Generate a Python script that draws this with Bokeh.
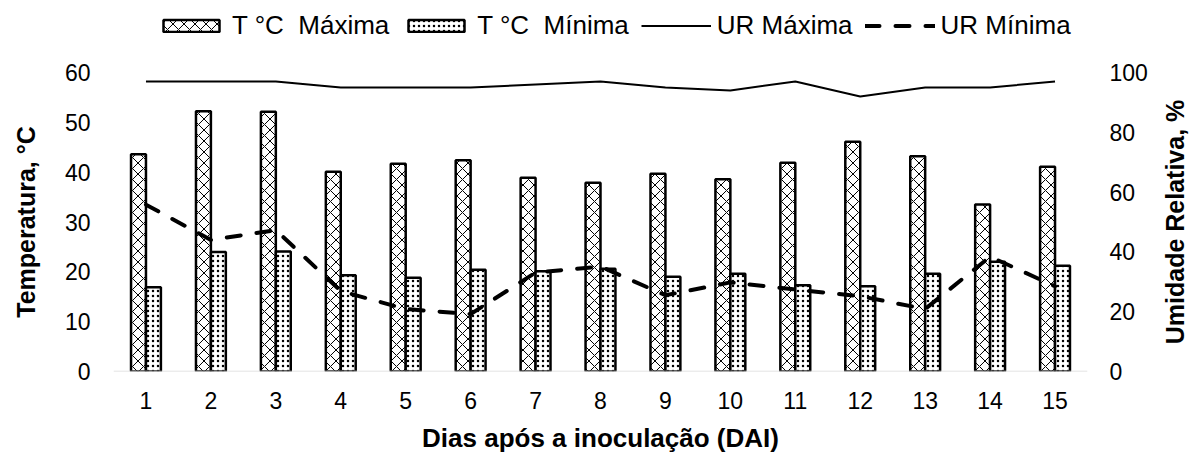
from bokeh.plotting import figure
from bokeh.layouts import column, row
from bokeh.models import Range1d, LinearAxis, Legend, LegendItem, ColumnDataSource, FixedTicker, Span, Title
from bokeh.transform import dodge
from bokeh.embed import file_html
from bokeh.resources import INLINE

days = list(range(1, 16))
t_max = [43.6, 52.2, 52.1, 40.1, 41.7, 42.4, 38.9, 37.9, 39.7, 38.6, 41.9, 46.1, 43.2, 33.5, 41.1]
t_min = [16.9, 24.0, 24.1, 19.3, 18.8, 20.4, 20.1, 20.6, 19.0, 19.6, 17.3, 17.1, 19.6, 22.0, 21.2]
ur_max = [97, 97, 97, 95, 95, 95, 96, 97, 95, 94, 97, 92, 95, 95, 97]
ur_min = [55.8, 44.0, 47.3, 26.9, 20.9, 19.2, 33.1, 35.1, 25.5, 29.8, 27.4, 25.2, 20.9, 38.4, 28.5]
labels = ["T °C  Máxima", "T °C  Mínima", "UR Máxima", "UR Mínima"]

src = ColumnDataSource(dict(day=days, t_max=t_max, t_min=t_min, ur_max=ur_max, ur_min=ur_min))

FONT = "Liberation Sans"
W_TOTAL = 1190
W_MAIN = 1157
FL, FW = 113, 974          # frame left / width
MT, FH, MB = 14, 305, 78   # top border / frame height / bottom border
H_MAIN = MT + FH + MB

bar_max_style = dict(fill_color="white", line_color="black", line_width=2.5,
                     hatch_pattern="x", hatch_color="black", hatch_scale=11, hatch_weight=1)
bar_min_style = dict(fill_color="white", line_color="black", line_width=2.5,
                     hatch_pattern=".", hatch_color="black", hatch_scale=5, hatch_weight=1.2)
ur_max_style = dict(line_color="black", line_width=2)
ur_min_style = dict(line_color="black", line_width=4, line_dash="14 16", line_cap="round")

# ---------------- main chart ----------------
p = figure(width=W_MAIN, height=H_MAIN, output_backend="svg", toolbar_location=None,
           x_range=Range1d(0.5, 15.5), y_range=Range1d(0, 60),
           min_border_left=FL, min_border_right=W_MAIN - FL - FW,
           min_border_top=MT, min_border_bottom=MB)
p.outline_line_color = None
p.xgrid.visible = False
p.ygrid.visible = False

p.extra_y_ranges = {"ur": Range1d(0, 100)}

def style_axis(ax):
    ax.axis_line_color = None
    ax.major_tick_line_color = None
    ax.minor_tick_line_color = None
    ax.major_tick_out = 0
    ax.major_tick_in = 0
    ax.minor_tick_out = 0
    ax.minor_tick_in = 0
    ax.major_label_text_font = FONT
    ax.major_label_text_font_size = "23px"
    ax.major_label_text_color = "black"
    ax.axis_label_text_font = FONT
    ax.axis_label_text_font_size = "25px"
    ax.axis_label_text_font_style = "bold"
    ax.axis_label_text_color = "black"

p.xaxis.ticker = FixedTicker(ticks=days)
p.xaxis.axis_label = "Dias após a inoculação (DAI)"
style_axis(p.xaxis[0])
p.xaxis.major_label_standoff = 20
p.xaxis.axis_label_standoff = 11
p.xaxis.axis_label_text_font_size = "26px"
p.yaxis.ticker = FixedTicker(ticks=[0, 10, 20, 30, 40, 50, 60])
p.yaxis.axis_label = "Temperatura, °C"
style_axis(p.yaxis[0])
p.yaxis.major_label_standoff = 23
p.yaxis.axis_label_standoff = 22

ax_r = LinearAxis(y_range_name="ur", ticker=FixedTicker(ticks=[0, 20, 40, 60, 80, 100]))
style_axis(ax_r)
ax_r.major_label_standoff = 22
p.add_layout(ax_r, "right")

base = Span(location=0, dimension="width", line_color="#d9d9d9", line_width=1.5)
p.add_layout(base)

p.vbar(x=dodge("day", -0.115, range=p.x_range), top="t_max", width=0.23, source=src, **bar_max_style)
p.vbar(x=dodge("day", 0.115, range=p.x_range), top="t_min", width=0.23, source=src, **bar_min_style)
p.line("day", "ur_max", source=src, y_range_name="ur", **ur_max_style)
p.line("day", "ur_min", source=src, y_range_name="ur", **ur_min_style)

# ---------------- right axis title (reads bottom-to-top) ----------------
side = figure(width=W_TOTAL - W_MAIN, height=H_MAIN, output_backend="svg", toolbar_location=None,
              x_range=Range1d(0, 1), y_range=Range1d(0, 1),
              x_axis_location=None, y_axis_location=None,
              min_border_left=0, min_border_right=0, min_border_top=MT, min_border_bottom=MB)
side.outline_line_color = None
side.xgrid.visible = False
side.ygrid.visible = False
side.add_layout(Title(text="Umidade Relativa, %", align="center", text_font=FONT,
                      text_font_size="25px", text_font_style="bold", text_color="black",
                      standoff=4), "left")

# ---------------- legend strip ----------------
lg = figure(width=W_MAIN, height=58, output_backend="svg", toolbar_location=None,
            x_range=Range1d(0, 1), y_range=Range1d(0, 1),
            x_axis_location=None, y_axis_location=None,
            min_border_left=FL, min_border_right=W_MAIN - FL - FW, min_border_top=0, min_border_bottom=0)
lg.outline_line_color = None
lg.xgrid.visible = False
lg.ygrid.visible = False
# zero-size placeholder renderers, used only for the legend swatches
dummy_bar = ColumnDataSource(dict(x=[0.5], top=[0.5], bottom=[0.5]))
dummy_line = ColumnDataSource(dict(x=[0.5], y=[0.5]))
l1 = lg.vbar(x="x", top="top", bottom="bottom", width=0, source=dummy_bar, **bar_max_style)
l2 = lg.vbar(x="x", top="top", bottom="bottom", width=0, source=dummy_bar, **bar_min_style)
l3 = lg.line("x", "y", source=dummy_line, **ur_max_style)
l4 = lg.line("x", "y", source=dummy_line, **ur_min_style)

legend = Legend(items=[LegendItem(label=t, renderers=[r]) for t, r in zip(labels, [l1, l2, l3, l4])],
                orientation="horizontal", location=(156 - FL, 17))
legend.label_text_font = FONT
legend.label_text_font_size = "26px"
legend.label_text_color = "black"
legend.border_line_color = None
legend.background_fill_alpha = 0
legend.glyph_width = 70
legend.glyph_height = 15
legend.label_standoff = 6
legend.spacing = 12
legend.padding = 0
legend.margin = 0
lg.add_layout(legend, "center")

layout = column(lg, row(p, side, spacing=0), spacing=0)
open("out.html", "w").write(file_html(layout, INLINE))
